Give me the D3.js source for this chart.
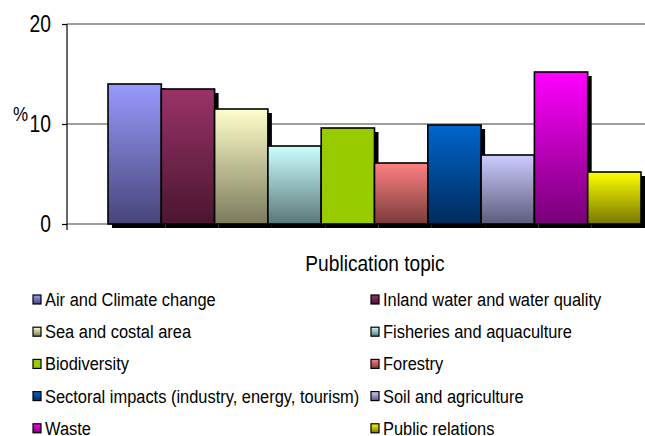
<!DOCTYPE html>
<html>
<head>
<meta charset="utf-8">
<script src="https://cdn.jsdelivr.net/npm/d3@7/dist/d3.min.js"></script>
<style>
  html, body { margin: 0; padding: 0; background: #fff; }
  svg { display: block; }
  text { font-family: "Liberation Sans", Arial, sans-serif; fill: #000; }
</style>
</head>
<body>
<svg id="chart" width="645" height="436"></svg>
<script>
// ---- data ----
const categories = [
  "Air and Climate change",
  "Inland water and water quality",
  "Sea and costal area",
  "Fisheries and aquaculture",
  "Biodiversity",
  "Forestry",
  "Sectoral impacts (industry, energy, tourism)",
  "Soil and agriculture",
  "Waste",
  "Public relations"
];
const values = [14.0, 13.5, 11.5, 7.8, 9.6, 6.1, 9.9, 6.9, 15.2, 5.2];
const topColors = ["#9999ff", "#993366", "#ffffcc", "#ccffff", "#99cc00", "#ff8080", "#0066cc", "#ccccff", "#ff00ff", "#ffff00"];
const bottomColors = ["#464678", "#4a1630", "#7a7a5c", "#5a7878", "#99cc00", "#7a3c3c", "#002a5c", "#5c5c7c", "#760076", "#787800"];
const yTicks = [0, 10, 20];
const yLabel = "%";
const xLabel = "Publication topic";

// ---- layout ----
const svg = d3.select("#chart");
const plot = { left: 67, right: 645, top: 24, bottom: 224 };

const x = d3.scaleBand().domain(categories).range([108, 641]).paddingInner(0).paddingOuter(0);
const y = d3.scaleLinear().domain([0, 20]).range([plot.bottom, plot.top]);

// gradients
const defs = svg.append("defs");
categories.forEach((c, i) => {
  const g = defs.append("linearGradient").attr("id", "grad" + i)
    .attr("x1", 0).attr("y1", 0).attr("x2", 0).attr("y2", 1);
  g.append("stop").attr("offset", "0%").attr("stop-color", topColors[i]);
  g.append("stop").attr("offset", "100%").attr("stop-color", bottomColors[i]);
});

// gridlines
svg.append("g").selectAll("line").data(yTicks).join("line")
  .attr("x1", plot.left).attr("x2", plot.right)
  .attr("y1", d => y(d)).attr("y2", d => y(d))
  .attr("stroke", "#7f7f7f").attr("stroke-width", 1.5);

// y axis
const yAxis = d3.axisLeft(y).tickValues(yTicks).tickSize(5).tickFormat("");
const ag = svg.append("g").attr("transform", `translate(${plot.left},0)`).call(yAxis);
ag.select(".domain").remove();
ag.selectAll(".tick line").attr("stroke", "#000").attr("stroke-width", 1.2);
svg.append("line").attr("x1", plot.left).attr("x2", plot.left)
  .attr("y1", plot.top).attr("y2", plot.bottom + 6)
  .attr("stroke", "#000").attr("stroke-width", 1.2);

// tick labels (condensed)
svg.append("g").selectAll("g").data(yTicks).join("g")
  .attr("transform", d => `translate(51,${y(d) + 8}) scale(0.84,1)`)
  .append("text").attr("text-anchor", "end").attr("font-size", 23).text(d => d);

// y label
svg.append("g").attr("transform", `translate(13,121) scale(0.85,1)`)
  .append("text").attr("font-size", 20).text(yLabel);

// shadows
svg.append("g").selectAll("rect").data(values).join("rect")
  .attr("x", (d, i) => x(categories[i]) + 4)
  .attr("y", d => y(d) + 4)
  .attr("width", x.bandwidth())
  .attr("height", d => y(0) - y(d))
  .attr("fill", "#000");

// bars
svg.append("g").selectAll("rect").data(values).join("rect")
  .attr("x", (d, i) => x(categories[i]))
  .attr("y", d => y(d))
  .attr("width", x.bandwidth())
  .attr("height", d => y(0) - y(d))
  .attr("fill", (d, i) => `url(#grad${i})`)
  .attr("stroke", "#000").attr("stroke-width", 1.6);

// x label
svg.append("g").attr("transform", `translate(375,271) scale(0.87,1)`)
  .append("text").attr("text-anchor", "middle").attr("font-size", 22).text(xLabel);

// legend
const colX = [33, 371];
const rowY0 = 306, rowStep = 32.2;
const leg = svg.append("g").selectAll("g").data(categories).join("g")
  .attr("transform", (d, i) => `translate(${colX[i % 2]},${rowY0 + Math.floor(i / 2) * rowStep})`);
leg.append("rect")
  .attr("x", 0).attr("y", -11).attr("width", 8).attr("height", 9)
  .attr("fill", (d, i) => `url(#grad${i})`)
  .attr("stroke", "#000").attr("stroke-width", 1.2);
leg.append("g").attr("transform", `translate(12,0) scale(0.865,1)`)
  .append("text").attr("font-size", 19).text(d => d);
</script>
</body>
</html>
